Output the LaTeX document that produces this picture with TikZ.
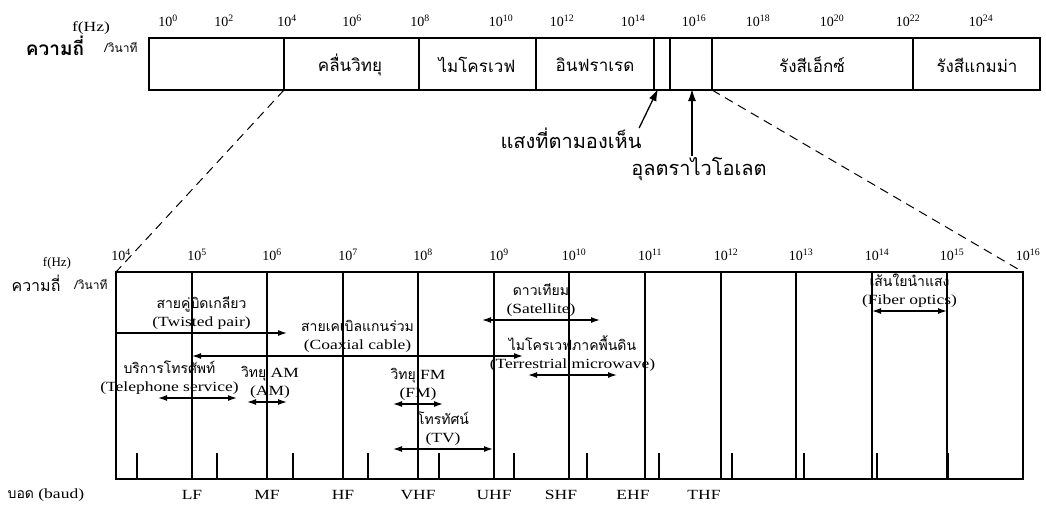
\documentclass[tikz,border=0pt]{standalone}
\usepackage{fontspec}
\setmainfont{Liberation Serif}
\newfontfamily\thaifont[Script=Thai]{Loma}
\newfontfamily\widerm[FakeStretch=1.25]{Liberation Serif}
\usetikzlibrary{arrows.meta}

\begin{document}
\begin{tikzpicture}[x=1pt, y=-1pt, line width=1.3pt,
  >={Latex[length=9pt,width=6pt]},
  every node/.style={inner sep=1pt},
  bandname/.style={font=\thaifont\fontsize{17}{19}\selectfont},
  lightname/.style={font=\thaifont\fontsize{20}{22}\selectfont},
  pow/.style={font=\fontsize{14}{16}\selectfont},
  medium/.style={align=center, font=\widerm\fontsize{14}{17.5}\selectfont},
  radio/.style={font=\widerm\fontsize{14}{16}\selectfont},
  pointer/.style={->, >={Latex[length=12pt,width=8pt]}}]
\useasboundingbox (0,0) rectangle (1046,507);

% whole spectrum
\draw (149,38) rectangle (1040,90);
\foreach \x in {284,419,536,654,670,712,913}
  \draw (\x,38) -- (\x,90);
\foreach \e/\x in {0/168,2/224,4/287,6/352,8/420,10/501,12/562,14/633,16/694,18/758,20/832,22/908,24/981}
  \node[pow] (p\e) at (\x,21) {10\textsuperscript{\e}};
\node[font=\widerm\fontsize{14}{16}\selectfont] (fhz) at (91,28) {f(Hz)};
\node[font=\thaifont\bfseries\fontsize{19}{21}\selectfont] (freq) at (55,46) {ความถี่};
\node[font=\thaifont\fontsize{12}{14}\selectfont] (persec) at (121,47) {/วินาที};

\node[bandname] (radiowave) at (350,65) {คลื่นวิทยุ};
\node[bandname] (microwave) at (477,65) {ไมโครเวฟ};
\node[bandname] (infrared) at (595,65) {อินฟราเรด};
\node[bandname] (xray) at (812,65) {รังสีเอ็กซ์};
\node[bandname] (gamma) at (977,65) {รังสีแกมม่า};

\coordinate (vislight) at (658,89);
\coordinate (uvlight) at (692,89);
\node[lightname] (vis) at (571,138) {แสงที่ตามองเห็น};
\node[lightname] (uv) at (699,169) {อุลตราไวโอเลต};
\draw[pointer] (vis.north east) ++(-4,2) -- (vislight);
\draw[pointer] (uv.north -| uvlight) -- (uvlight);

% zoom onto the communication range
\coordinate (zl) at (284,90);
\coordinate (zr) at (712,90);
\coordinate (gl) at (116,272);
\coordinate (gr) at (1023,272);
\draw[dashed, dash pattern=on 9pt off 6pt, line width=1pt] (zl) -- (gl);
\draw[dashed, dash pattern=on 9pt off 6pt, line width=1pt] (zr) -- (gr);

\draw (gl) rectangle (1023,479);
\foreach \x in {192,267,343,418,494,569,645,721,796,872,947}
  \draw (\x,272) -- (\x,479);
\foreach \x in {137,217,293,368,439,514,587,659,732,804,877,948}
  \draw (\x,453) -- (\x,479);
\foreach \e/\x in {4/116,5/192,6/267,7/343,8/418,9/494,10/569,11/645,12/721,13/796,14/872,15/947,16/1023}
  \node[pow] (q\e) at (\x+5,255) {10\textsuperscript{\e}};
\node[font=\fontsize{13}{15}\selectfont] (fhz2) at (57,263) {f(Hz)};
\node[font=\thaifont\fontsize{16}{18}\selectfont] (freq2) at (36,283) {ความถี่};
\node[font=\thaifont\fontsize{12}{14}\selectfont] (persec2) at (91,284) {/วินาที};

% transmission media and services
\foreach \n/\a/\b/\y in {tp/116/287/333, cx/192/523/356, tel/158/237/398, am/247/287/402,
    fm/393/443/404, tv/393/493/449, sat/482/600/320, mw/528/617/375, fib/872/947/311} {
  \coordinate (\n-l) at (\a,\y);
  \coordinate (\n-r) at (\b,\y);
}
\draw[->] (tp-l) -- node[medium, above=2pt] (tp) {{\thaifont สายคู่บิดเกลียว}\\(Twisted pair)} (tp-r);
\draw[<->] (cx-l) -- node[medium, above=2pt] (cx) {{\thaifont สายเคเบิลแกนร่วม}\\(Coaxial cable)} (cx-r);
\draw[<->] (tel-l) -- node[medium, above=2pt, xshift=-28pt] (tel) {{\thaifont บริการโทรศัพท์}\\(Telephone service)} (tel-r);
\draw[<->] (am-l) -- node[medium, above=2pt, xshift=3pt] (am) {{\thaifont วิทยุ} AM\\(AM)} (am-r);
\draw[<->] (fm-l) -- node[medium, above=2pt] (fm) {{\thaifont วิทยุ} FM\\(FM)} (fm-r);
\draw[<->] (tv-l) -- node[medium, above=2pt] (tv) {{\thaifont โทรทัศน์}\\(TV)} (tv-r);
\draw[<->] (sat-l) -- node[medium, above=2pt] (sat) {{\thaifont ดาวเทียม}\\(Satellite)} (sat-r);
\draw[<->] (mw-l) -- node[medium, above=2pt] (mw) {{\thaifont ไมโครเวฟภาคพื้นดิน}\\(Terrestrial microwave)} (mw-r);
\draw[<->] (fib-l) -- node[medium, above=2pt] (fib) {{\thaifont เส้นใยนำแสง}\\(Fiber optics)} (fib-r);

% radio bands
\node[radio, anchor=west] (baud) at (6,495) {{\thaifont บอด} (baud)};
\foreach \b/\x in {LF/192,MF/267,HF/343,VHF/418,UHF/494,SHF/561,EHF/633,THF/704}
  \node[radio] (\b) at (\x,495) {\b};
\end{tikzpicture}
\end{document}
